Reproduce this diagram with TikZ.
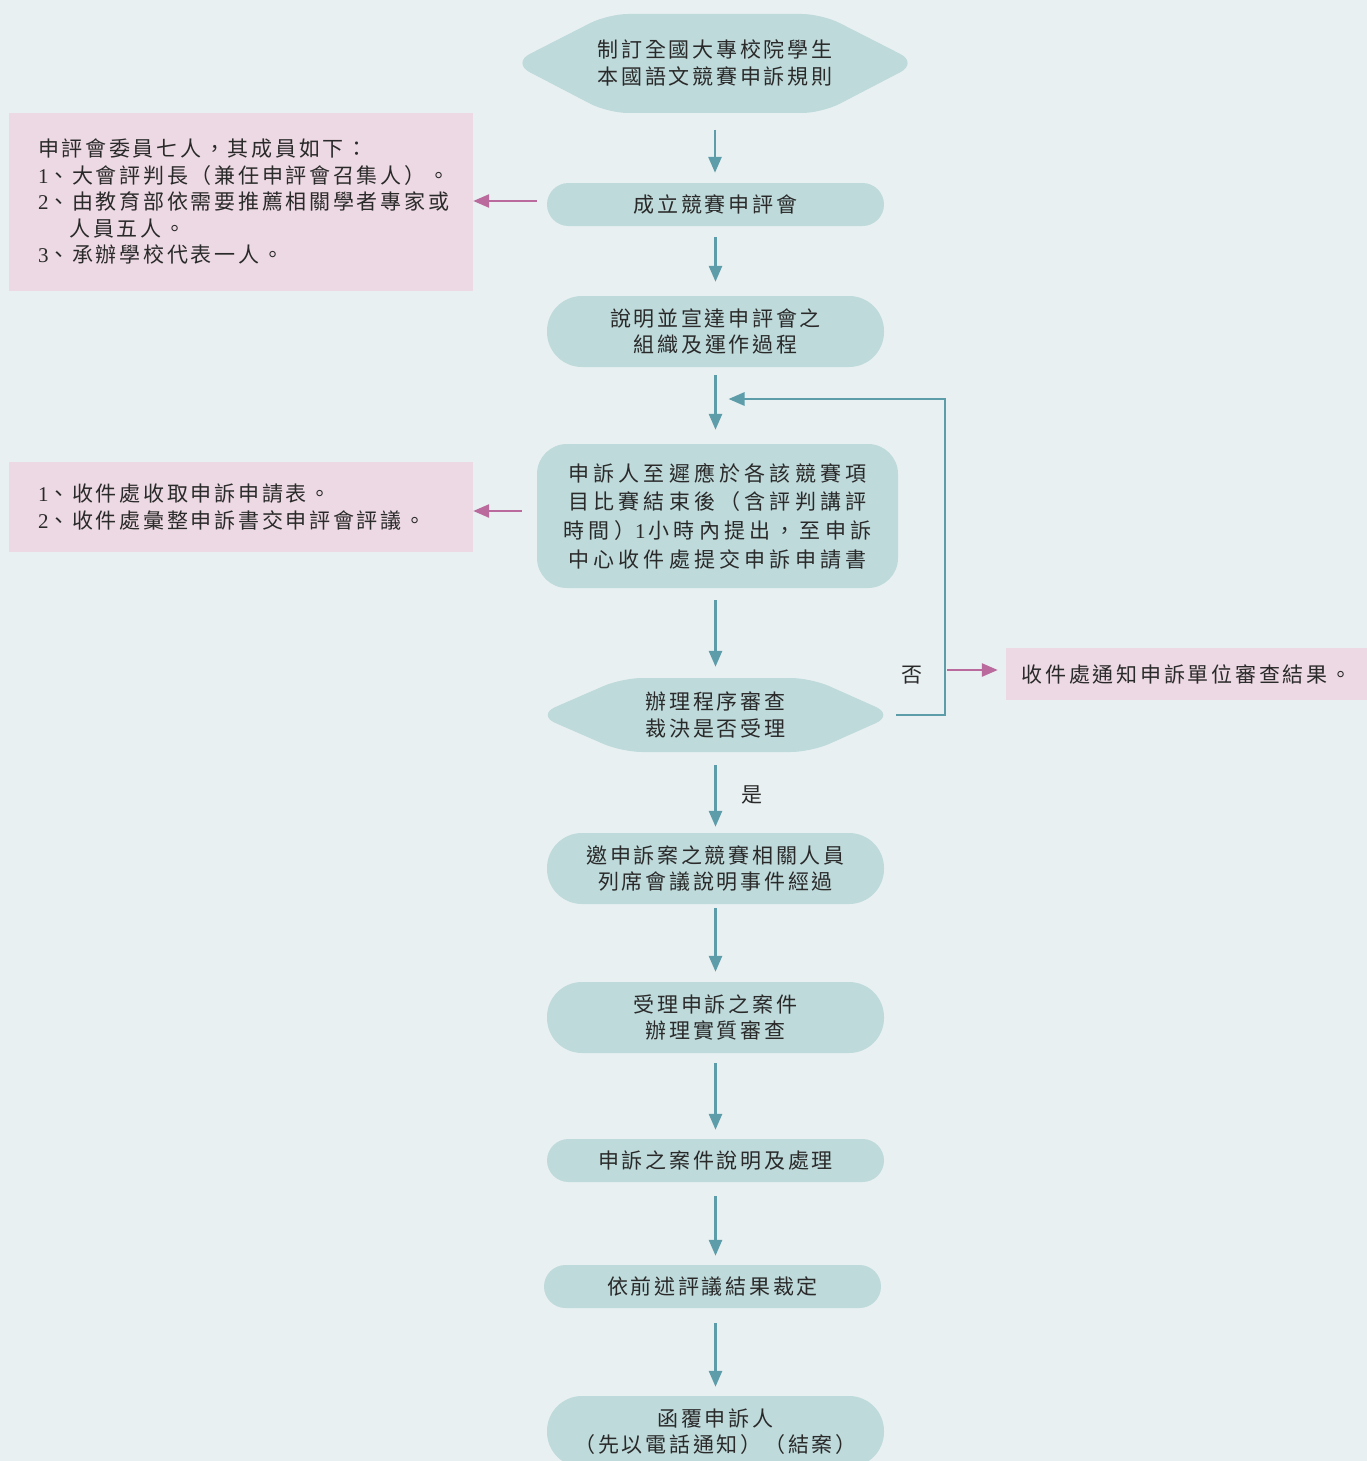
\documentclass[tikz,border=0pt]{standalone}
\usepackage{fontspec}
\usetikzlibrary{arrows.meta}
\newfontfamily\cjk{Noto Sans CJK TC}[LetterSpace=13]
\newfontfamily\cjkw{Noto Sans CJK TC}[LetterSpace=20]
\newfontfamily\latinf{Liberation Serif}
\newcommand\nm[1]{{\latinf #1}}
\definecolor{bgc}{HTML}{E8F0F2}
\definecolor{nodec}{HTML}{BFDADB}
\definecolor{pinkc}{HTML}{EDD9E3}
\definecolor{tealc}{HTML}{5D9CA9}
\definecolor{parrc}{HTML}{BA6A9D}
\definecolor{txtc}{HTML}{2A2A2A}
\tikzset{
  txt/.style={text=txtc, font=\cjk\fontsize{21pt}{26.5pt}\selectfont},
  box/.style={txt, fill=nodec, rounded corners=21.5pt, minimum width=337pt, minimum height=43pt, align=center, inner sep=0pt},
  tallbox/.style={box, minimum height=71pt, rounded corners=35pt},
  hexlabel/.style={txt, align=center, inner sep=0pt},
  hexfill/.style={fill=nodec, rounded corners=20pt},
  pinkbox/.style={txt, fill=pinkc, inner ysep=0pt},
  tarr/.style={draw=tealc, line width=2.8pt, -{Triangle[length=16pt,width=13pt]}},
  parr/.style={draw=parrc, line width=2.6pt, -{Triangle[length=16pt,width=13pt]}}
}
\begin{document}
\begin{tikzpicture}[x=1pt,y=-1pt]
\useasboundingbox (0,0) rectangle (1367,1461);
\clip (0,0) rectangle (1367,1461);
\fill[bgc] (0,0) rectangle (1367,1461);

% hexagon shapes
\fill[hexfill] (512,63) -- (608,14) -- (822,14) -- (918,63) -- (822,113) -- (608,113) -- cycle;
\fill[hexfill] (537,715) -- (622,678) -- (811,678) -- (894,715) -- (811,752) -- (622,752) -- cycle;

% main nodes
\node[hexlabel, minimum width=384pt, minimum height=99pt] (n1) at (715,63) {制訂全國大專校院學生\\本國語文競賽申訴規則};
\node[box] (n2) at (715.5,204.5) {成立競賽申評會};
\node[tallbox] (n3) at (715.5,331.5) {說明並宣達申評會之\\組織及運作過程};
\node[box, minimum width=361pt, minimum height=144pt, rounded corners=30pt, font=\cjkw\fontsize{21pt}{28.7pt}\selectfont] (n4) at (717.5,516) {申訴人至遲應於各該競賽項\\目比賽結束後（含評判講評\\時間）\nm{1}\hspace{3pt}小時內提出，至申訴\\中心收件處提交申訴申請書};
\node[hexlabel, minimum width=337pt, minimum height=74pt] (n5) at (715.5,715) {辦理程序審查\\裁決是否受理};
\node[tallbox] (n6) at (715.5,868.5) {邀申訴案之競賽相關人員\\列席會議說明事件經過};
\node[tallbox] (n7) at (715.5,1017.5) {受理申訴之案件\\辦理實質審查};
\node[box] (n8) at (715.5,1160.5) {申訴之案件說明及處理};
\node[box] (n9) at (712.5,1286.5) {依前述評議結果裁定};
\node[tallbox] (n10) at (715.5,1431.5) {函覆申訴人\\（先以電話通知）（結案）};

% side notes
\node[pinkbox, text width=406pt, inner xsep=29pt, minimum height=178pt, align=left] (p1) at (241,202) {申評會委員七人，其成員如下：\\
\nm{1}、大會評判長（兼任申評會召集人）。\\
\nm{2}、由教育部依需要推薦相關學者專家或\\
\phantom{\nm{2}、}人員五人。\\
\nm{3}、承辦學校代表一人。};
\node[pinkbox, text width=406pt, inner xsep=29pt, minimum height=90pt, align=left] (p2) at (241,507) {\nm{1}、收件處收取申訴申請表。\\
\nm{2}、收件處彙整申訴書交申評會評議。};
\node[pinkbox, minimum width=361pt, minimum height=52pt, inner xsep=0pt, align=center] (p3) at (1186.5,674) {收件處通知申訴單位審查結果。};

% labels
\node[txt, inner sep=0pt] (no) at (912,675) {否};
\node[txt, inner sep=0pt] (yes) at (752,795) {是};

% vertical flow arrows
\draw[tarr, shorten <=17pt, shorten >=10pt] (n1.south) -- (n1.south |- n2.north);
\draw[tarr, shorten <=11pt, shorten >=14pt] (n2.south) -- (n2.south |- n3.north);
\draw[tarr, shorten <=8pt, shorten >=14pt] (n3.south) -- (n3.south |- n4.north);
\draw[tarr, shorten <=12pt, shorten >=11pt] (n4.south -| n3.south) -- (n5.north);
\draw[tarr, shorten <=13pt, shorten >=6pt] (n5.south) -- (n5.south |- n6.north);
\draw[tarr, shorten <=4pt, shorten >=10pt] (n6.south) -- (n6.south |- n7.north);
\draw[tarr, shorten <=10pt, shorten >=9pt] (n7.south) -- (n7.south |- n8.north);
\draw[tarr, shorten <=14pt, shorten >=9pt] (n8.south) -- (n8.south |- n9.north);
\draw[tarr, shorten <=15pt, shorten >=9pt] (n10.north |- n9.south) -- (n10.north);

% loop back (no)
\coordinate (lp) at (945,399);
\draw[tealc, line width=2.8pt, -{Triangle[length=16pt,width=13pt]}, line join=miter]
  ([xshift=12pt]n5.east) -- (lp |- n5.east) -- (lp) -- ([xshift=13pt]lp -| n3.south);

% pink arrows
\coordinate (nost) at (947,670);
\draw[parr, shorten >=8pt] (nost) -- (nost -| p3.west);
\draw[parr, shorten <=10pt] ([yshift=3.5pt]n2.west) -- ([yshift=3.5pt]n2.west -| p1.east);
\draw[parr, shorten <=15pt] ([yshift=5pt]n4.west) -- ([yshift=5pt]n4.west -| p2.east);
\end{tikzpicture}
\end{document}
